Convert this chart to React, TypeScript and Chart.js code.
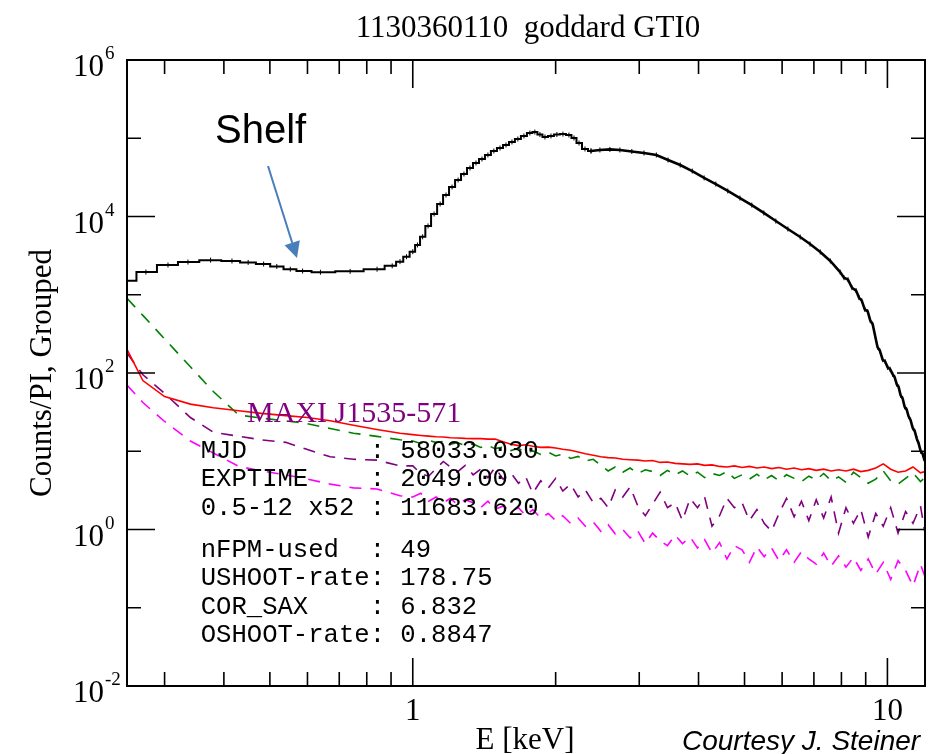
import React, { useEffect, useRef } from "react";
import { Chart, registerables } from "chart.js";

Chart.register(...registerables);

// Source spectrum (counts per PI channel), binned histogram
const blackEnergy = [
  0.25, 0.274, 0.305, 0.336, 0.375, 0.416, 0.45, 0.485, 0.517, 0.552,
  0.586, 0.639, 0.738, 0.841, 0.905, 0.94, 0.97, 1.0, 1.023, 1.049,
  1.077, 1.109, 1.142, 1.175, 1.21, 1.246, 1.282, 1.32, 1.359, 1.399,
  1.44, 1.482, 1.527, 1.572, 1.618, 1.665, 1.715, 1.765, 1.808, 1.853,
  1.899, 1.955, 2.012, 2.072, 2.133, 2.186, 2.24, 2.306, 2.374,
  2.479, 2.602, 2.731, 2.894, 3.07, 3.26, 3.45, 3.66, 3.88, 4.11,
  4.35, 4.61, 4.89, 5.18, 5.49, 5.82, 6.17, 6.55, 6.87, 7.22,
  7.58, 7.95, 8.1, 8.26, 8.42, 8.59, 8.71, 8.83, 8.96, 9.09,
  9.2, 9.31, 9.42, 9.53, 9.65, 9.77, 9.89, 10.01, 10.13, 10.26,
  10.36, 10.46, 10.56, 10.66, 10.77, 10.87, 10.98, 11.08, 11.19, 11.3,
  11.42, 11.53, 11.64, 11.75, 11.87, 11.98,
];
const blackCounts = [
  1510, 1950, 2400, 2620, 2770, 2700, 2590, 2470, 2300, 2120,
  2010, 1940, 1990, 2120, 2340, 2650, 3060, 3550, 4330, 5500,
  7570, 10760, 14450, 18830, 23800, 29300, 34900, 41700, 48300, 54300,
  61100, 68800, 75000, 82000, 89600, 97800, 106900, 116700, 120000, 111600,
  103700, 106900, 111600, 113000, 110000, 100700, 86900, 73000, 68800,
  70800, 72000, 70800, 67800, 64800, 61100, 52700, 45500, 38100, 31100,
  26000, 21200, 17200, 14000, 11100, 8750, 6920, 5470, 4450, 3520,
  2700, 1950, 1650, 1560, 1230, 1130, 920, 840, 650, 610,
  470, 420, 300, 215, 190, 148, 140, 118, 112, 96,
  88, 72, 66, 52, 47, 37, 34, 28, 25, 20,
  18, 14.5, 12.5, 10, 9.2, 7.5,
];
// below this energy the histogram is drawn as steps
const STEP_LIMIT_KEV = 2.4;

// Background / model curves share one energy grid
const bkgEnergy = [
  0.25, 0.27, 0.3, 0.34, 0.38, 0.43, 0.48, 0.54, 0.6, 0.67, 0.75, 0.84, 0.94,
  1.0, 1.04, 1.08, 1.12, 1.16, 1.2, 1.24, 1.29, 1.34, 1.39,
  1.44, 1.49, 1.55, 1.61, 1.67, 1.73, 1.79, 1.86, 1.93, 2.0,
  2.07, 2.15, 2.23, 2.31, 2.4, 2.49, 2.58, 2.67, 2.77, 2.87,
  2.98, 3.09, 3.2, 3.32, 3.44, 3.57, 3.7, 3.84, 3.98, 4.12,
  4.27, 4.43, 4.59, 4.76, 4.94, 5.12, 5.31, 5.5, 5.7, 5.91,
  6.13, 6.36, 6.59, 6.83, 7.08, 7.34, 7.61, 7.89, 8.18, 8.48,
  8.79, 9.11, 9.45, 9.8, 10.16, 10.53, 10.92, 11.32, 11.74, 12.0,
];
const redCounts = [
  200, 80, 50, 40, 36, 33, 30.5, 28.5, 27, 24.5, 21.5, 19, 17,
  16.3, 15.9, 15.6, 15.3, 15.2, 14.9, 14.8, 14.6, 14.5, 14.5,
  14.3, 14.3, 13.2, 12.3, 11.8, 12.1, 11.6, 11.2, 11.3, 11.0,
  10.6, 10.3, 9.8, 9.3, 8.9, 8.5, 8.3, 8.2, 7.9, 7.8,
  7.7, 7.5, 7.6, 7.2, 7.3, 7.0, 6.9, 6.8, 6.9, 6.6,
  6.7, 6.4, 6.3, 6.5, 6.2, 6.4, 6.1, 6.3, 6.0, 6.2,
  5.9, 6.1, 5.8, 6.0, 5.7, 5.9, 5.6, 5.8, 5.6, 5.9,
  5.5, 5.7, 6.1, 6.9, 5.9, 5.4, 5.6, 6.3, 5.3, 5.5,
];
const greenCounts = [
  900, 545, 273, 120, 58, 29, 26.5, 24.5, 22.5, 19.5, 17, 15.5, 14,
  13.5, 12.6, 13.8, 12.9, 13.4, 12.2, 12.9, 11.8, 12.4, 11.2,
  11.9, 10.8, 11.3, 10.2, 10.9, 9.6, 10.1, 9.1, 9.7, 8.7,
  9.2, 8.1, 8.6, 7.5, 7.9, 6.6, 5.6, 6.3, 5.4, 6.1,
  5.2, 5.8, 5.5, 4.9, 5.7, 5.0, 5.6, 4.8, 5.4, 4.6,
  5.2, 4.9, 5.5, 4.5, 5.0, 4.4, 5.1, 4.3, 4.9, 4.2,
  5.0, 4.5, 4.1, 4.8, 4.3, 5.2, 4.2, 4.7, 4.0, 5.4,
  4.6, 3.9, 4.4, 5.6, 4.2, 3.8, 4.5, 5.3, 4.1, 4.6,
];
const purpleCounts = [
  180, 95, 55, 27, 17.5, 15.5, 14, 13, 10.5, 8.5, 7.9, 7.7, 6.5,
  6.5, 5.2, 4.8, 6.0, 7.4, 6.3, 5.4, 6.6, 5.0, 5.9,
  4.6, 6.2, 4.4, 5.3, 3.9, 4.7, 2.9, 4.2, 3.4, 4.5,
  3.1, 3.8, 2.6, 3.2, 2.2, 2.5, 1.9, 3.2, 2.6, 3.5,
  2.0, 1.5, 2.1, 3.0, 1.9, 2.2, 1.3, 2.5, 1.9, 2.6,
  1.1, 1.5, 2.5, 1.9, 2.2, 1.3, 1.8, 1.2, 0.95, 1.6,
  2.5, 1.45, 2.3, 1.3, 2.4, 1.4, 2.6, 0.9, 1.9, 1.2,
  1.8, 0.8, 1.6, 1.1, 1.9, 0.9, 1.7, 1.2, 2.0, 0.9,
];
const magentaCounts = [
  70, 42, 24, 13.5, 9.5, 6.4, 5.6, 5.0, 4.4, 3.8, 3.4, 3.3, 2.7,
  2.6, 2.9, 2.3, 2.6, 2.2, 2.5, 2.1, 2.4, 2.2, 1.9,
  2.3, 1.8, 2.0, 1.7, 1.9, 1.5, 1.8, 1.4, 1.6, 1.3,
  1.5, 1.2, 1.4, 1.1, 1.25, 0.95, 1.15, 0.88, 1.0, 0.78,
  0.95, 0.66, 0.9, 0.72, 0.62, 0.85, 0.66, 0.8, 0.58, 0.74,
  0.5, 0.68, 0.42, 0.62, 0.55, 0.38, 0.6, 0.45, 0.58, 0.4,
  0.55, 0.38, 0.52, 0.42, 0.36, 0.5, 0.34, 0.46, 0.33, 0.44,
  0.3, 0.42, 0.27, 0.38, 0.23, 0.4, 0.3, 0.19, 0.36, 0.25,
];

// Axis ticks and labels
const xMajorTicks = [1, 10];
const xMajorLabels = ["1", "10"];
const xMinorTicks = [0.3, 0.4, 0.5, 0.6, 0.7, 0.8, 0.9, 2, 3, 4, 5, 6, 7, 8, 9];
const yDecadeExponents = [-2, -1, 0, 1, 2, 3, 4, 5, 6];
const yLabelExponents = [-2, 0, 2, 4, 6];

const titleText = "1130360110  goddard GTI0";
const yTitle = "Counts/PI, Grouped";
const xTitle = "E [keV]";
const sourceName = "MAXI J1535-571";
const infoBlockTop = [
  "MJD        : 58033.030",
  "EXPTIME    : 2049.00",
  "0.5-12 x52 : 11683.620",
];
const infoBlockBottom = [
  "nFPM-used  : 49",
  "USHOOT-rate: 178.75",
  "COR_SAX    : 6.832",
  "OSHOOT-rate: 0.8847",
];
const shelfText = "Shelf";
const creditText = "Courtesy J. Steiner";

const SERIF = '"Liberation Serif", "DejaVu Serif", serif';
const SANS = '"Liberation Sans", Arial, sans-serif';
const MONO = '"Liberation Mono", "DejaVu Sans Mono", monospace';

const toPoints = (xs: number[], ys: number[]) => xs.map((x, i) => ({ x, y: ys[i] }));

const framePlugin = {
  id: "qdpFrame",
  afterDraw(chart: any) {
    const { ctx, chartArea: a } = chart;
    const xs = chart.scales.x;
    const ys = chart.scales.y;
    ctx.save();

    // frame
    ctx.strokeStyle = "#000";
    ctx.lineWidth = 2;
    ctx.strokeRect(a.left, a.top, a.right - a.left, a.bottom - a.top);

    // inward ticks
    ctx.lineWidth = 1.6;
    const vTick = (v: number, len: number) => {
      const px = xs.getPixelForValue(v);
      ctx.beginPath();
      ctx.moveTo(px, a.bottom);
      ctx.lineTo(px, a.bottom - len);
      ctx.moveTo(px, a.top);
      ctx.lineTo(px, a.top + len);
      ctx.stroke();
    };
    xMajorTicks.forEach((v) => vTick(v, 28));
    xMinorTicks.forEach((v) => vTick(v, 14));
    yDecadeExponents.forEach((e) => {
      const py = ys.getPixelForValue(Math.pow(10, e));
      const len = e % 2 === 0 ? 28 : 14;
      ctx.beginPath();
      ctx.moveTo(a.left, py);
      ctx.lineTo(a.left + len, py);
      ctx.moveTo(a.right, py);
      ctx.lineTo(a.right - len, py);
      ctx.stroke();
    });

    ctx.fillStyle = "#000";
    // x tick labels
    ctx.font = `31px ${SERIF}`;
    ctx.textAlign = "center";
    ctx.textBaseline = "alphabetic";
    xMajorTicks.forEach((v, i) => {
      ctx.fillText(xMajorLabels[i], xs.getPixelForValue(v), 720);
    });

    // y tick labels: 10 with superscript exponent
    yLabelExponents.forEach((e) => {
      const py = ys.getPixelForValue(Math.pow(10, e));
      const anchor = 104;
      ctx.font = `31px ${SERIF}`;
      ctx.textAlign = "right";
      ctx.fillText("10", anchor, py + 16);
      ctx.font = `19px ${SERIF}`;
      ctx.textAlign = "left";
      ctx.fillText(String(e), anchor + 1, py - 1);
    });

    // title
    ctx.font = `31px ${SERIF}`;
    ctx.textAlign = "center";
    ctx.fillText(titleText, (a.left + a.right) / 2 + 2, 37);

    // x axis title
    ctx.fillText(xTitle, 525, 749);

    // y axis title
    ctx.save();
    ctx.translate(51, (a.top + a.bottom) / 2);
    ctx.rotate(-Math.PI / 2);
    ctx.textAlign = "center";
    ctx.fillText(yTitle, 0, 0);
    ctx.restore();

    // source label
    ctx.fillStyle = "#800080";
    ctx.font = `30px ${SERIF}`;
    ctx.textAlign = "left";
    ctx.fillText(sourceName, 247, 422);

    // info block
    ctx.fillStyle = "#000";
    ctx.font = `25.6px ${MONO}`;
    const lineH = 28.4;
    infoBlockTop.forEach((t, i) => ctx.fillText(t, 200.7, 458 + i * lineH));
    infoBlockBottom.forEach((t, i) => ctx.fillText(t, 200.7, 557 + i * lineH));

    // shelf annotation
    ctx.font = `40px ${SANS}`;
    ctx.fillText(shelfText, 215, 143);
    const x0 = 268, y0 = 166, x1 = 297, y1 = 258;
    const ang = Math.atan2(y1 - y0, x1 - x0);
    const headLen = 16, headHalf = 8;
    const bx = x1 - headLen * Math.cos(ang);
    const by = y1 - headLen * Math.sin(ang);
    ctx.strokeStyle = "#4a7ebb";
    ctx.fillStyle = "#4a7ebb";
    ctx.lineWidth = 2;
    ctx.beginPath();
    ctx.moveTo(x0, y0);
    ctx.lineTo(bx, by);
    ctx.stroke();
    ctx.beginPath();
    ctx.moveTo(x1, y1);
    ctx.lineTo(bx + headHalf * Math.sin(ang), by - headHalf * Math.cos(ang));
    ctx.lineTo(bx - headHalf * Math.sin(ang), by + headHalf * Math.cos(ang));
    ctx.closePath();
    ctx.fill();

    // credit
    ctx.fillStyle = "#000";
    ctx.font = `italic 28px ${SANS}`;
    ctx.fillText(creditText, 682, 750);

    ctx.restore();
  },
};

export default function App() {
  const canvasRef = useRef<HTMLCanvasElement | null>(null);

  useEffect(() => {
    const canvas = canvasRef.current;
    if (!canvas) return;
    const split = blackEnergy.findIndex((e) => e > STEP_LIMIT_KEV);
    const blackPts = toPoints(blackEnergy, blackCounts);
    const histTick = {
      pointStyle: "line" as const,
      pointRotation: 90,
      pointRadius: 2.5,
      pointBorderColor: "#000",
      pointBorderWidth: 1,
    };

    const chart = new Chart(canvas, {
      type: "line",
      data: {
        datasets: [
          {
            data: blackPts.slice(0, split),
            borderColor: "#000",
            borderWidth: 2,
            stepped: "middle",
            ...histTick,
          },
          {
            data: blackPts.slice(split - 1),
            borderColor: "#000",
            borderWidth: 2.6,
            ...histTick,
          },
          {
            data: toPoints(bkgEnergy, redCounts),
            borderColor: "#ff0000",
            borderWidth: 1.6,
            pointRadius: 0,
          },
          {
            data: toPoints(bkgEnergy, greenCounts),
            borderColor: "#008000",
            borderWidth: 1.6,
            borderDash: [12, 9],
            pointRadius: 0,
          },
          {
            data: toPoints(bkgEnergy, purpleCounts),
            borderColor: "#800080",
            borderWidth: 1.6,
            borderDash: [12, 9],
            pointRadius: 0,
          },
          {
            data: toPoints(bkgEnergy, magentaCounts),
            borderColor: "#ff00ff",
            borderWidth: 1.6,
            borderDash: [12, 9],
            pointRadius: 0,
          },
        ],
      },
      options: {
        responsive: false,
        animation: false,
        devicePixelRatio: 1,
        layout: { padding: { left: 127, top: 60, right: 14, bottom: 68 } },
        plugins: {
          legend: { display: false },
          tooltip: { enabled: false },
          title: { display: false },
        },
        elements: { line: { tension: 0 } },
        scales: {
          x: { type: "logarithmic", min: 0.25, max: 12, display: false },
          y: { type: "logarithmic", min: 0.01, max: 1e6, display: false },
        },
      },
      plugins: [framePlugin],
    });
    return () => chart.destroy();
  }, []);

  return (
    <div style={{ position: "fixed", left: 0, top: 0, width: 939, height: 754, background: "#fff" }}>
      <canvas ref={canvasRef} width={939} height={754} style={{ display: "block" }} />
    </div>
  );
}
